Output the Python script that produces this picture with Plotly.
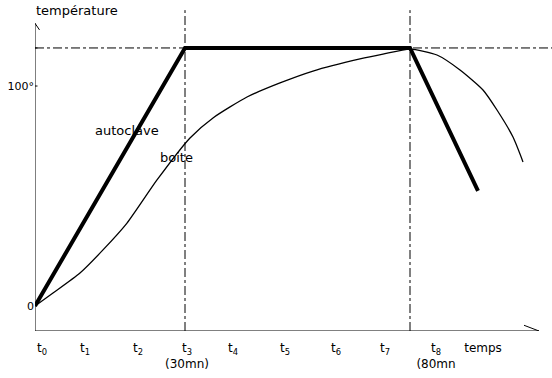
import plotly.graph_objects as go

# ---- data (time in minutes-like units, temperature in degrees) ----
autoclave_t = [0, 30, 75, 88.6]
autoclave_T = [0, 117.3, 117.3, 52.3]

boite_t = [0, 3.6, 9, 13.6, 18.4, 24.4, 31, 35.6, 42.4, 49, 55.6, 65, 69.6, 75,
           80.4, 85, 89.6, 92.4, 95.6, 97.6]
boite_T = [0, 5.9, 15, 25.5, 37.7, 57.3, 76.4, 85.5, 95, 101.4, 106.8, 112.3, 114.5, 116.8,
           114.1, 107.3, 98.2, 89.1, 76.8, 65.5]

x_tick_pos = [1.4, 10, 20.6, 30.4, 39.6, 50, 60.2, 70, 80.2, 89.6]
x_tick_text = ["t<sub>0</sub>", "t<sub>1</sub>", "t<sub>2</sub>", "t<sub>3</sub><br>(30mn)",
               "t<sub>4</sub>", "t<sub>5</sub>", "t<sub>6</sub>", "t<sub>7</sub>",
               "t<sub>8</sub><br>(80mn", "temps"]
y_tick_pos = [0, 100]
y_tick_text = ["0", "100°"]

plateau = 117.3
t3, t7 = 30, 75
x_min, x_max = 0, 103.4
y_min, y_max = -11.36, 139.1

font = "DejaVu Sans"

fig = go.Figure()
fig.add_trace(go.Scatter(x=boite_t, y=boite_T, mode="lines",
                         line=dict(color="black", width=1.3, shape="spline", smoothing=0.6),
                         hoverinfo="skip", showlegend=False))
fig.add_trace(go.Scatter(x=autoclave_t, y=autoclave_T, mode="lines",
                         line=dict(color="black", width=4),
                         hoverinfo="skip", showlegend=False))

shapes = []
# axes
shapes.append(dict(type="line", xref="x", yref="y", x0=0, x1=100.8, y0=y_min, y1=y_min,
                   line=dict(color="black", width=1)))
shapes.append(dict(type="line", xref="x", yref="y", x0=0, x1=0, y0=y_min, y1=128.5,
                   line=dict(color="black", width=1)))
# arrowheads
shapes.append(dict(type="path", xref="x", yref="y",
                   path=f"M -1.2,{124.0} L 0,{128.5} L 0.9,{125.5}",
                   line=dict(color="black", width=1)))
shapes.append(dict(type="path", xref="x", yref="y",
                   path=f"M 97.8,{y_min+2.6} L 100.8,{y_min} L 97.8,{y_min-2.6}",
                   line=dict(color="black", width=1)))
# dash-dot guides
shapes.append(dict(type="line", xref="x", yref="y", x0=0, x1=x_max, y0=plateau, y1=plateau,
                   line=dict(color="black", width=1, dash="dashdot")))
for tv in (t3, t7):
    shapes.append(dict(type="line", xref="x", yref="y", x0=tv, x1=tv, y0=y_min, y1=134.5,
                       line=dict(color="black", width=1, dash="dashdot")))
# small y ticks
for yv in (100, plateau):
    shapes.append(dict(type="line", xref="x", yref="y", x0=-0.5, x1=0.5, y0=yv, y1=yv,
                       line=dict(color="black", width=1)))

annotations = [
    dict(text="température", x=8.4, y=134.5, xref="x", yref="y", xanchor="center",
         yanchor="middle", showarrow=False, font=dict(family=font, size=13, color="black")),
    dict(text="autoclave", x=18.4, y=80, xref="x", yref="y", showarrow=False,
         font=dict(family=font, size=13, color="black")),
    dict(text="boite", x=28.2, y=67.7, xref="x", yref="y", showarrow=False,
         font=dict(family=font, size=13, color="black")),
]

fig.update_layout(
    width=552, height=378,
    margin=dict(l=35, r=0, t=0, b=47),
    paper_bgcolor="white", plot_bgcolor="white",
    shapes=shapes, annotations=annotations,
    xaxis=dict(range=[x_min, x_max], showgrid=False, zeroline=False, showline=False,
               automargin=False, ticklabelstandoff=8,
               tickmode="array", tickvals=x_tick_pos, ticktext=x_tick_text, ticks="",
               tickfont=dict(family=font, size=12, color="black"), tickangle=0),
    yaxis=dict(range=[y_min, y_max], showgrid=False, zeroline=False, showline=False,
               automargin=False,
               tickmode="array", tickvals=y_tick_pos, ticktext=y_tick_text, ticks="",
               tickfont=dict(family=font, size=11, color="black")),
)

fig.write_html("out.html", config={"displayModeBar": False},
               post_script="document.body.style.margin='0';document.body.style.padding='0';")
